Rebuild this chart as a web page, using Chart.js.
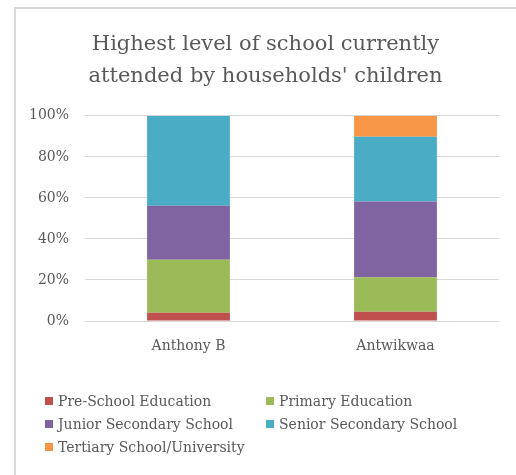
<!DOCTYPE html>
<html>
<head>
<meta charset="utf-8">
<script src="https://cdn.jsdelivr.net/npm/chart.js@4.4.1/dist/chart.umd.min.js"></script>
<style>
  html, body { margin: 0; padding: 0; background: #fff; }
  #wrap { width: 516px; height: 475px; }
</style>
</head>
<body>
<div id="wrap"><canvas id="myChart" width="516" height="475"></canvas></div>
<script>
const categories = ['Anthony B', 'Antwikwaa'];
const seriesNames = ['Pre-School Education', 'Primary Education', 'Junior Secondary School', 'Senior Secondary School', 'Tertiary School/University'];
const preSchool = [4.0, 4.5];
const primary = [25.9, 16.8];
const juniorSec = [26.3, 37.0];
const seniorSec = [43.8, 31.5];
const tertiary = [0, 10.2];
const yTicks = [0, 20, 40, 60, 80, 100];

const colors = ['#C0504D', '#9BBB59', '#8064A2', '#4BACC6', '#F79646'];
const FONT = '"DejaVu Serif", serif';
const TEXT = '#595959';

// white background + the two visible frame edges
const frame = {
  id: 'frame',
  beforeDraw(chart) {
    const c = chart.ctx;
    c.save();
    c.fillStyle = '#fff';
    c.fillRect(0, 0, chart.width, chart.height);
    c.strokeStyle = '#d9d9d9';
    c.lineWidth = 2;
    c.beginPath();
    c.moveTo(15, chart.height);
    c.lineTo(15, 8);
    c.lineTo(chart.width, 8);
    c.stroke();
    c.restore();
  }
};

// two column legend like the office one
const gridLegend = {
  id: 'gridLegend',
  afterDraw(chart) {
    const c = chart.ctx;
    const cols = [45, 266];
    const rowY = [401, 424, 447];
    c.save();
    c.font = '14px ' + FONT;
    c.fillStyle = TEXT;
    c.textBaseline = 'middle';
    chart.data.datasets.forEach((ds, i) => {
      const x = cols[i % 2];
      const y = rowY[Math.floor(i / 2)];
      c.fillStyle = ds.backgroundColor;
      c.fillRect(x, y - 4, 8, 8);
      c.fillStyle = TEXT;
      c.fillText(ds.label, x + 13, y + 1);
    });
    c.restore();
  }
};

const values = [preSchool, primary, juniorSec, seniorSec, tertiary];

new Chart(document.getElementById('myChart'), {
  type: 'bar',
  data: {
    labels: categories,
    datasets: values.map((v, i) => ({
      label: seriesNames[i],
      data: v,
      backgroundColor: colors[i],
      borderWidth: 0,
      categoryPercentage: 1,
      barPercentage: 0.4,
      yAxisID: 'y'
    }))
  },
  plugins: [frame, gridLegend],
  options: {
    responsive: false,
    animation: false,
    layout: { padding: { left: 15, right: 0, top: 0, bottom: 100 } },
    plugins: {
      legend: { display: false },
      tooltip: { enabled: false },
      title: {
        display: true,
        text: ['Highest level of school currently', "attended by households' children"],
        color: TEXT,
        font: { family: FONT, size: 21, weight: 'normal', lineHeight: 1.52 },
        padding: { top: 29, bottom: 23 }
      }
    },
    scales: {
      x: {
        stacked: true,
        grid: { display: false, drawTicks: false },
        border: { display: false },
        ticks: { color: TEXT, font: { family: FONT, size: 14 }, padding: 17 },
        afterFit(s) { s.height = 54; }
      },
      y: {
        stacked: true,
        min: 0,
        max: 100,
        afterBuildTicks(s) { s.ticks = yTicks.map(v => ({ value: v })); },
        grid: { color: '#d9d9d9', lineWidth: 1, drawTicks: false },
        border: { display: false },
        ticks: { color: TEXT, font: { family: FONT, size: 14 }, padding: 16, callback: v => v + '%' },
        afterFit(s) { s.width = 70; }
      },
      y2: {
        position: 'right',
        display: true,
        grid: { display: false, drawTicks: false },
        border: { display: false },
        ticks: { display: false },
        afterFit(s) { s.width = 17; }
      }
    }
  }
});
</script>
</body>
</html>
